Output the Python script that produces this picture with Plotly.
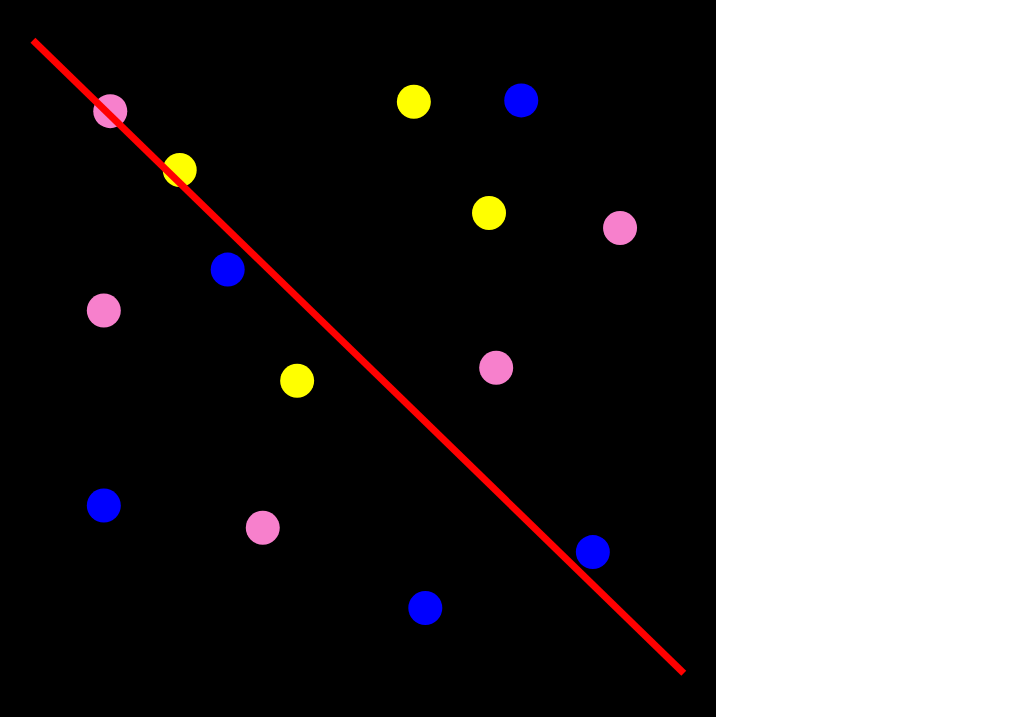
import plotly.graph_objects as go

pink_x = [15.4, 86.6, 14.5, 69.3, 36.7]
pink_y = [84.5, 68.2, 56.7, 48.7, 26.4]
yellow_x = [57.8, 25.1, 68.3, 41.5]
yellow_y = [85.8, 76.3, 70.3, 46.9]
blue_x = [72.8, 31.8, 14.5, 82.8, 59.4]
blue_y = [86.0, 62.4, 29.5, 23.0, 15.2]
line_x = [4.6, 95.5]
line_y = [94.4, 6.1]

fig = go.Figure()
for xs, ys, c in [(pink_x, pink_y, "#F780CC"), (yellow_x, yellow_y, "#FFFF00"), (blue_x, blue_y, "#0000FF")]:
    fig.add_trace(go.Scatter(x=xs, y=ys, mode="markers",
                             marker=dict(size=34, color=c, line=dict(width=0)),
                             showlegend=False, hoverinfo="skip"))
fig.add_trace(go.Scatter(x=line_x, y=line_y, mode="lines",
                         line=dict(color="#FF0000", width=7),
                         showlegend=False, hoverinfo="skip"))

fig.update_layout(
    width=1012, height=717,
    margin=dict(l=0, r=296, t=0, b=0),
    paper_bgcolor="white", plot_bgcolor="black",
    xaxis=dict(range=[0, 100], visible=False, showgrid=False, zeroline=False, fixedrange=True),
    yaxis=dict(range=[0, 100], visible=False, showgrid=False, zeroline=False, fixedrange=True),
)
fig.write_html("out.html", config={"displayModeBar": False},
               post_script="document.body.style.margin='0';document.body.style.overflow='hidden';")
